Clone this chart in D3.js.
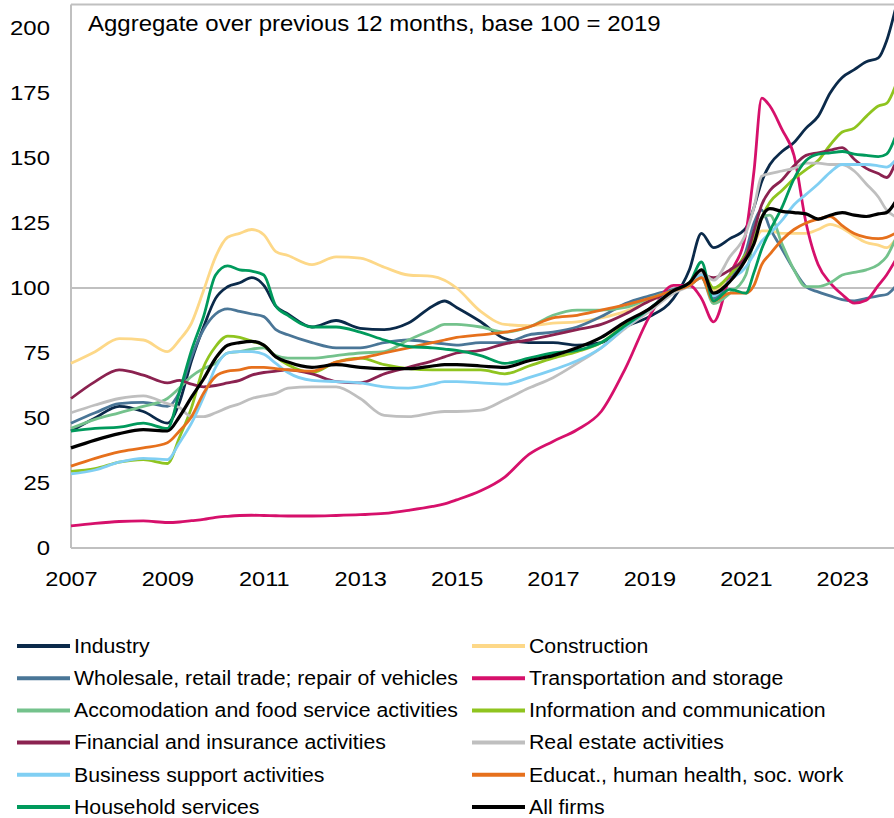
<!DOCTYPE html>
<html>
<head>
<meta charset="utf-8">
<script src="https://cdn.jsdelivr.net/npm/d3@7"></script>
<style>
  html, body { margin: 0; padding: 0; background: #fff; }
  text { font-family: "Liberation Sans", Arial, sans-serif; fill: #000; }
</style>
</head>
<body>
<div id="chart"></div>
<script>

const WIDTH = 894;
const HEIGHT = 818;

// Plot area.
const PLOT = {'left': 71, 'top': 5, 'bottom': 548};

// Dates, in fractional years.
const years = [2007.0, 2007.5, 2008.0, 2008.5, 2009.0, 2009.25, 2009.5, 2009.75, 2010.0, 2010.25,
               2010.5, 2010.75, 2011.0, 2011.25, 2011.5, 2012.0, 2012.5, 2013.0, 2013.5, 2014.0,
               2014.5, 2014.75, 2015.0, 2015.5, 2016.0, 2016.5, 2017.0, 2017.5, 2018.0, 2018.5,
               2019.0, 2019.5, 2019.83, 2020.08, 2020.33, 2020.67, 2021.0, 2021.17, 2021.33, 2021.5,
               2021.75, 2022.0, 2022.25, 2022.5, 2022.75, 2023.0, 2023.25, 2023.5, 2023.75, 2023.92, 2024.1];

const industry = [45, 50, 54.5, 52.5, 48, 56, 72, 85, 96, 100.5,
                  102, 104, 101, 93, 90, 85, 87.5, 84.5, 84, 86.5,
                  93, 95, 92.5, 87, 80.5, 79, 79, 78, 79, 85,
                  89, 96, 107, 121, 115.5, 119, 123, 131, 141, 147.5,
                  152.5, 156, 161.5, 166, 175, 181, 184, 187, 188.5, 195, 207];
const construction = [71, 75.5, 80.5, 80, 75.5, 80, 86.5, 99, 112, 119.5,
                      121, 122.5, 120.5, 114, 112.5, 109, 112, 111.5, 108, 105,
                      104.5, 103, 100, 91, 86, 85.5, 86.5, 87, 88.5, 91,
                      95, 99, 101, 104, 99, 104, 111, 117, 122, 122,
                      121, 121, 121, 122.5, 124.5, 123, 120, 117.5, 116.5, 115.5, 118.5];
const wholesale = [48, 52, 55.5, 56, 54.5, 60, 73.5, 84, 90, 92,
                   91, 90, 89, 84, 82, 79, 77, 77, 79, 80,
                   79, 78.5, 78, 79, 79, 82, 83, 85, 89, 94,
                   97, 99.5, 101, 104, 96, 103, 114, 125, 130, 123,
                   115, 107, 100.5, 98.5, 97, 95.5, 95, 96, 97, 97.5, 100.5];
const transport = [8.5, 9.5, 10.2, 10.4, 9.8, 10, 10.5, 11, 11.8, 12.2,
                   12.5, 12.6, 12.5, 12.4, 12.3, 12.3, 12.5, 12.8, 13.3, 14.5,
                   16, 17, 18.5, 22, 27.3, 36, 41, 45.5, 52.5, 69,
                   89, 101, 101, 96, 87, 105, 121, 145, 173, 170,
                   161, 151, 125, 109, 102, 97.5, 94.2, 95.3, 101, 105, 110.5];
const accomodation = [46, 49.5, 52, 54.5, 57.5, 61.5, 66, 69, 71, 75,
                      75.5, 76.5, 77, 74, 73, 73, 74, 75, 75.5, 80,
                      84, 86, 86, 85, 83, 85, 89.5, 91.5, 91.5, 92.5,
                      96, 99, 101, 104, 94, 98, 105, 119, 127, 128,
                      117, 107, 100.5, 100.5, 102, 105, 106, 107, 109, 112, 118.5];
const information = [29.5, 30.5, 33, 34, 32.5, 42.5, 54, 69.5, 77.5, 81.5,
                     81, 79.5, 78, 73.5, 70.5, 67.5, 71.5, 73, 70.5, 69,
                     68.5, 68.5, 68.5, 68.5, 67, 70, 73, 75.5, 79, 86,
                     92, 99, 101, 107, 100, 105, 113, 119, 127, 133,
                     137.5, 142, 145.5, 149, 155, 160, 161.5, 166, 170, 171, 177.5];
const financial = [57.5, 64, 68.5, 66.5, 63.5, 64.5, 63, 62, 62.5, 63.5,
                   64.5, 66.5, 67.5, 68, 68.5, 67, 64, 63.5, 67, 69.5,
                   72, 73.5, 75, 76, 78.5, 80, 82, 84, 86, 90,
                   95, 99, 101, 105, 104, 107, 112, 122, 132, 137.5,
                   141.5, 147, 151, 152, 153, 154, 149.5, 146, 144, 142.5, 148];
const realEstate = [52, 55, 57.5, 58.5, 55.5, 54, 50.5, 50.5, 52, 54,
                    55.5, 57.5, 58.5, 59.5, 61.5, 62, 62, 57.5, 51, 50.5,
                    52, 52.5, 52.5, 53, 57, 61.5, 65.5, 71, 77, 84.5,
                    91, 98, 101, 106, 103, 112, 121, 131, 143, 144,
                    145, 146, 148, 148, 147.5, 147.5, 145, 140, 135, 130, 127.5];
const business = [28.5, 30, 33, 34.5, 34, 40.5, 48, 58, 69.5, 75,
                  75.5, 75.5, 74.5, 71, 67.5, 64.5, 64, 63.5, 62, 61.5,
                  63, 64, 64, 63.5, 63, 65.5, 68.5, 72, 77, 85,
                  92, 99, 101, 105, 97, 103, 108, 113, 118, 121,
                  126, 132, 136, 140, 144.5, 147.5, 147.5, 147.5, 147, 146.5, 149];
const education = [31.5, 34.5, 37, 38.5, 40.5, 45, 50.5, 59.5, 66, 68,
                   68.5, 69.5, 69.5, 69, 68.5, 68, 71.5, 73, 75, 77,
                   79, 80, 81, 82, 83, 85, 88.5, 89.5, 91.5, 93.5,
                   96, 99, 101, 104, 95, 98, 98, 101, 109, 113,
                   118.5, 122.5, 125, 126.5, 127.5, 124, 121, 119.5, 119, 119.5, 121];
const household = [45, 46, 46.5, 48, 46, 60, 76, 89, 105, 108.5,
                   107, 106.5, 105, 93, 89.5, 85, 85, 83, 80, 77.5,
                   77, 76.5, 76, 74, 71, 73, 75, 76, 79, 85.5,
                   92, 99, 102, 110, 95, 99.5, 98, 106, 115, 122,
                   131, 142, 149, 151.5, 152, 152.5, 151.5, 151, 150.5, 151.5, 158];
const allFirms = [38.5, 41.5, 44, 45.5, 45, 50.5, 58, 65, 73, 78,
                  79, 79.5, 78, 73.5, 71.5, 69.5, 70.5, 69.5, 69, 69,
                  70, 70.5, 70.5, 70, 69.5, 72, 74, 77, 81, 87,
                  92, 99, 102, 107, 98, 102.5, 111, 117, 127, 130.5,
                  129.5, 129, 128.5, 126.5, 128, 129, 128, 127.5, 128.5, 129, 133];

const seriesNames = ["Industry", "Construction",
                     "Wholesale, retail trade; repair of vehicles", "Transportation and storage",
                     "Accomodation and food service activities", "Information and communication",
                     "Financial and insurance activities", "Real estate activities",
                     "Business support activities", "Educat., human health, soc. work",
                     "Household services", "All firms"];
const seriesValues = [industry, construction, wholesale, transport, accomodation, information,
                      financial, realEstate, business, education, household, allFirms];
const seriesColors = ["#0b2a4a", "#fdd888", "#4a7697", "#d6106b", "#74c28c", "#8fc41f",
                      "#8b2250", "#bfbfbf", "#80cff3", "#e6701c", "#009a5c", "#000000"];

const yTicks = [0, 25, 50, 75, 100, 125, 150, 175, 200];
const xTicks = [2007, 2009, 2011, 2013, 2015, 2017, 2019, 2021, 2023];
const TITLE = "Aggregate over previous 12 months, base 100 = 2019";


// stretch text horizontally, the reference glyphs are wider than tall
function stretch(sel, k) {
    sel.each(function () {
        var w = this.getComputedTextLength();
        d3.select(this).attr("textLength", w * k).attr("lengthAdjust", "spacingAndGlyphs");
    });
}

window.onload = function () {

    var svg = d3.select("#chart").append("svg")
                .attr("width", WIDTH)
                .attr("height", HEIGHT);

    var x = d3.scaleLinear()
              .domain([2007, 2024.1])
              .range([PLOT.left, PLOT.left + 17.1 * 48.2]);

    var y = d3.scaleLinear()
              .domain([0, 209])
              .range([PLOT.bottom, PLOT.bottom - 209 * 2.6]);

    // frame + gridline at 100
    var grey = "#c0c0c0";
    svg.append("line").attr("x1", PLOT.left).attr("x2", WIDTH + 5)
       .attr("y1", y(209)).attr("y2", y(209))
       .attr("stroke", grey).attr("stroke-width", 2);
    svg.append("line").attr("x1", PLOT.left).attr("x2", WIDTH + 5)
       .attr("y1", y(100)).attr("y2", y(100))
       .attr("stroke", grey).attr("stroke-width", 2);

    var yAxis = svg.append("g")
                   .attr("transform", "translate(" + PLOT.left + ",0)")
                   .call(d3.axisLeft(y).tickValues(yTicks).tickSize(0).tickPadding(21));
    yAxis.select(".domain").remove();
    yAxis.selectAll("text").attr("font-size", "21px")
         .attr("font-family", "Liberation Sans, Arial, sans-serif").attr("fill", "#000");

    var xAxis = svg.append("g")
                   .attr("transform", "translate(0," + PLOT.bottom + ")")
                   .call(d3.axisBottom(x).tickValues(xTicks).tickFormat(d3.format("d"))
                           .tickSize(0).tickPadding(23));
    xAxis.select(".domain").remove();
    xAxis.selectAll("text").attr("font-size", "21px")
         .attr("font-family", "Liberation Sans, Arial, sans-serif").attr("fill", "#000");

    svg.append("line").attr("x1", PLOT.left).attr("x2", PLOT.left)
       .attr("y1", y(209)).attr("y2", PLOT.bottom)
       .attr("stroke", grey).attr("stroke-width", 2);
    svg.append("line").attr("x1", PLOT.left).attr("x2", WIDTH + 5)
       .attr("y1", PLOT.bottom).attr("y2", PLOT.bottom)
       .attr("stroke", grey).attr("stroke-width", 2);

    stretch(yAxis.selectAll("text"), 1.14);
    stretch(xAxis.selectAll("text"), 1.12);

    // series
    var line = d3.line()
                 .x(function (d, i) { return x(years[i]); })
                 .y(function (d) { return y(d); })
                 .curve(d3.curveMonotoneX);

    svg.append("g").selectAll("path")
       .data(seriesValues)
       .enter()
       .append("path")
       .attr("d", line)
       .attr("fill", "none")
       .attr("stroke", function (d, i) { return seriesColors[i]; })
       .attr("stroke-width", function (d, i) { return i == 11 ? 3.2 : 2.8; })
       .attr("stroke-linejoin", "round");

    // title
    var title = svg.append("text")
                   .attr("x", 88).attr("y", 31)
                   .attr("font-size", "22px")
                   .text(TITLE);
    stretch(title, 1.09);

    // legend, two columns, row-major
    var legend = svg.append("g").selectAll("g")
                    .data(seriesNames)
                    .enter()
                    .append("g")
                    .attr("transform", function (d, i) {
                        var col = i % 2, row = Math.floor(i / 2);
                        return "translate(" + (col ? 472 : 17) + "," + (646 + row * 32.2) + ")";
                    });

    legend.append("line")
          .attr("x1", 0).attr("x2", 53)
          .attr("stroke", function (d, i) { return seriesColors[i]; })
          .attr("stroke-width", 4);

    var ltext = legend.append("text")
                      .attr("x", 57)
                      .attr("dy", "0.35em")
                      .attr("font-size", "19.5px")
                      .text(function (d) { return d; });
    stretch(ltext, 1.09);
};

</script>
</body>
</html>
